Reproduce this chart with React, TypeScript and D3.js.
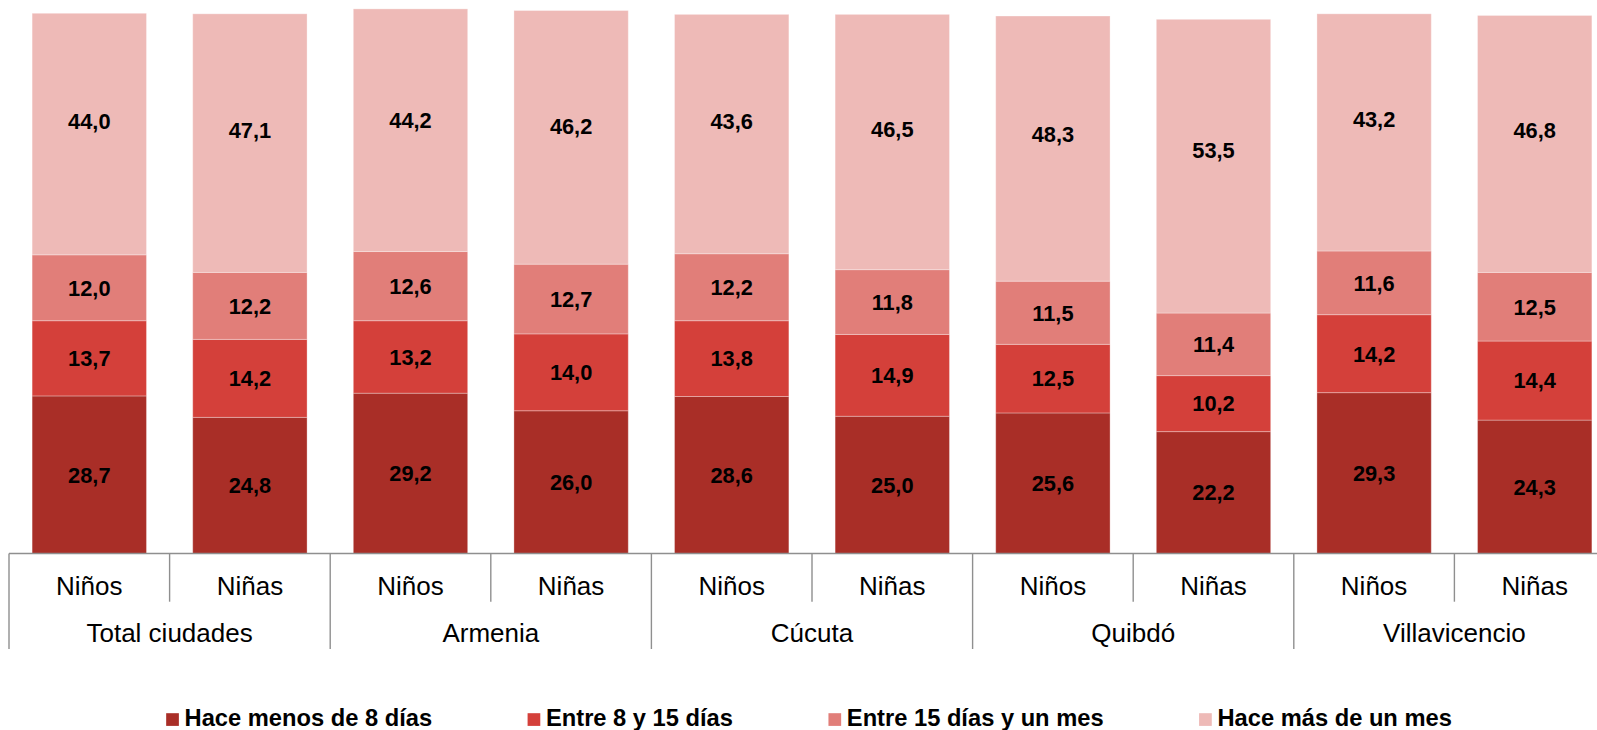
import React, { useMemo } from "react";
import * as d3 from "d3";

// ---- Data ----
const cities = ["Total ciudades", "Armenia", "Cúcuta", "Quibdó", "Villavicencio"];
const sexes = ["Niños", "Niñas"];
const seriesNames = [
  "Hace menos de 8 días",
  "Entre 8 y 15 días",
  "Entre 15 días y un mes",
  "Hace más de un mes",
];
const seriesColors = ["#A92E27", "#D4403A", "#E17E79", "#EEBAB7"];
// order: city x (Niños, Niñas)
const menos8 = [28.7, 24.8, 29.2, 26.0, 28.6, 25.0, 25.6, 22.2, 29.3, 24.3];
const entre8y15 = [13.7, 14.2, 13.2, 14.0, 13.8, 14.9, 12.5, 10.2, 14.2, 14.4];
const entre15yMes = [12.0, 12.2, 12.6, 12.7, 12.2, 11.8, 11.5, 11.4, 11.6, 12.5];
const masDeMes = [44.0, 47.1, 44.2, 46.2, 43.6, 46.5, 48.3, 53.5, 43.2, 46.8];

const W = 1597;
const H = 730;
const FONT = "'Liberation Sans', Arial, Helvetica, sans-serif";

const fmt = (v: number) => v.toFixed(1).replace(".", ",");

export default function App() {
  const values = [menos8, entre8y15, entre15yMes, masDeMes];
  const ids = cities.flatMap((c) => sexes.map((s) => `${c}|${s}`));

  const x = d3
    .scaleBand<string>()
    .domain(ids)
    .range([9, 1615])
    .paddingInner(0.288)
    .paddingOuter(0.144);
  const step = x.step();
  const x0 = 9;
  const axisY = 553.5;
  const y = d3.scaleLinear().domain([0, 100]).range([axisY, axisY - 549]);
  const labelCeil = 103; // top labels are centred in the space above lower segments

  const rows = ids.map((id, i) => {
    const obj: any = { id };
    seriesNames.forEach((s, k) => (obj[s] = values[k][i]));
    return obj;
  });
  const stacked = d3.stack<any>().keys(seriesNames)(rows);

  // legend layout
  const legendSize = 23.7;
  const legendFont = `bold ${legendSize}px ${FONT}`;
  const widths = useMemo(() => {
    const ctx = document.createElement("canvas").getContext("2d")!;
    ctx.font = legendFont;
    return seriesNames.map((s) => ctx.measureText(s).width);
  }, []);
  const sq = 12.7;
  const sqGap = 5.7;
  const itemGap = 95.5;
  const totalW =
    widths.reduce((a, b) => a + b, 0) + seriesNames.length * (sq + sqGap) + itemGap * (seriesNames.length - 1);
  let cursor = 809 - totalW / 2;
  const legendItems = seriesNames.map((s, k) => {
    const item = { s, k, x: cursor };
    cursor += sq + sqGap + widths[k] + itemGap;
    return item;
  });

  return (
    <div style={{ position: "fixed", left: 0, top: 0, width: W, height: H, overflow: "hidden", background: "#fff" }}>
      <svg width={W} height={H} style={{ display: "block" }} fontFamily={FONT}>
        {stacked.map((layer, k) => (
          <g key={layer.key} fill={seriesColors[k]}>
            {layer.map((d, i) => (
              <rect
                key={i}
                x={x(ids[i])}
                y={y(d[1])}
                width={x.bandwidth()}
                height={y(d[0]) - y(d[1])}
                stroke="#ffffff"
                strokeOpacity={0.3}
                strokeWidth={1}
              />
            ))}
          </g>
        ))}
        {stacked.map((layer, k) => (
          <g key={"l" + layer.key}>
            {layer.map((d, i) => {
              const top = k === stacked.length - 1 ? labelCeil : d[1];
              const cy = (y(d[0]) + y(top)) / 2;
              return (
                <text
                  key={i}
                  x={x(ids[i])! + x.bandwidth() / 2}
                  y={cy}
                  dy="0.36em"
                  textAnchor="middle"
                  fontWeight="bold"
                  fontSize={21.8}
                  fill="#000"
                >
                  {fmt(values[k][i])}
                </text>
              );
            })}
          </g>
        ))}
        {/* category axis */}
        <line x1={x0} x2={1615} y1={axisY} y2={axisY} stroke="#8f8f8f" strokeWidth={1.4} />
        {d3.range(ids.length + 1).map((j) => {
          const xx = x0 + j * step;
          const long = j % 2 === 0;
          return (
            <line
              key={"t" + j}
              x1={xx}
              x2={xx}
              y1={axisY}
              y2={long ? 649 : 601.7}
              stroke="#8f8f8f"
              strokeWidth={1.4}
            />
          );
        })}
        {ids.map((id, i) => (
          <text key={"s" + id} x={x(id)! + x.bandwidth() / 2} y={595} textAnchor="middle" fontSize={26} fill="#000">
            {id.split("|")[1]}
          </text>
        ))}
        {cities.map((c, j) => (
          <text key={"c" + c} x={x0 + (2 * j + 1) * step} y={641.7} textAnchor="middle" fontSize={26} fill="#000">
            {c}
          </text>
        ))}
        {/* legend */}
        {legendItems.map((it) => (
          <g key={"lg" + it.s}>
            <rect x={it.x} y={713.2} width={sq} height={sq} fill={seriesColors[it.k]} />
            <text x={it.x + sq + sqGap} y={726} fontWeight="bold" fontSize={legendSize} fill="#000">
              {it.s}
            </text>
          </g>
        ))}
      </svg>
    </div>
  );
}
